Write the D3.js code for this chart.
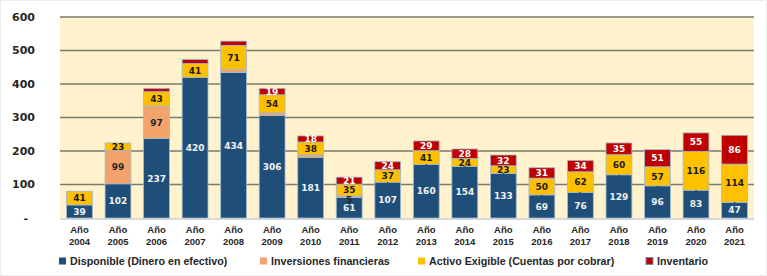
<!DOCTYPE html>
<!-- stacked bars: composicion del activo corriente 2004-2021 -->
<html>
<head>
<meta charset="utf-8">
<style>
  body { margin: 0; background: #ffffff; }
  #chart_div { width: 767px; height: 276px; }
</style>
</head>
<body>
<div id="chart_div"></div>

<script src="https://d3js.org/d3.v7.min.js"></script>

<script>

// data
let years = ["2004","2005","2006","2007","2008","2009","2010","2011","2012",
             "2013","2014","2015","2016","2017","2018","2019","2020","2021"];
let disponible  = [39,102,237,420,434,306,181,61,107,160,154,133,69,76,129,96,83,47];
let inversiones = [0,99,97,0,10,8,8,5,0,0,0,0,0,0,0,0,0,0];
let exigible    = [41,23,43,41,71,54,38,35,37,41,24,23,50,62,60,57,116,114];
let inventario  = [0,0,10,12,13,19,18,21,24,29,28,32,31,34,35,51,55,86];
let y_ticks = [0,100,200,300,400,500,600];

let series_names = ["Disponible (Dinero en efectivo)", "Inversiones financieras",
                    "Activo Exigible (Cuentas por cobrar)", "Inventario"];
let series_keys = ["disp", "inv", "exig", "invt"];
let colors = {disp: "#1f4e79", inv: "#f4a26b", exig: "#ffc000", invt: "#c00000"};
let label_colors = {disp: "#f2f2f2", inv: "#262626", exig: "#1a1a1a", invt: "#ffffff"};

let table = years.map(function(yr, i) {
  return {year: yr, disp: disponible[i], inv: inversiones[i], exig: exigible[i], invt: inventario[i]};
});

let plot = {left: 60, right: 754, top: 17, bottom: 218};

let svg = d3.select("#chart_div")
  .append("svg")
    .attr("width", 767)
    .attr("height", 276);

// light frame like the screenshot
svg.append("rect")
    .attr("x", 0.5).attr("y", 0.5)
    .attr("width", 766).attr("height", 275)
    .attr("fill", "#ffffff")
    .attr("stroke", "#ececec");

let x = d3.scaleBand()
  .domain(years)
  .range([plot.left, plot.right])
  .paddingInner(0.33)
  .paddingOuter(0.17);

let y = d3.scaleLinear()
  .domain([0, 600])
  .range([plot.bottom, plot.top]);

// plot background
svg.append("rect")
    .attr("x", plot.left)
    .attr("y", plot.top)
    .attr("width", plot.right - plot.left)
    .attr("height", plot.bottom - plot.top)
    .attr("fill", "#fff2cc");

// gridlines
svg.append("g")
  .selectAll("line")
  .data(y_ticks.filter(d => d > 0))
  .enter()
  .append("line")
    .attr("x1", plot.left)
    .attr("x2", plot.right)
    .attr("y1", d => y(d))
    .attr("y2", d => y(d))
    .attr("stroke", "#7a7a72")
    .attr("stroke-width", 1.5);

// bottom axis line
svg.append("line")
    .attr("x1", plot.left).attr("x2", plot.right)
    .attr("y1", plot.bottom + 1).attr("y2", plot.bottom + 1)
    .attr("stroke", "#d9d9d9")
    .attr("stroke-width", 2);

// y axis labels
svg.append("g")
  .selectAll("text")
  .data(y_ticks)
  .enter()
  .append("text")
    .attr("x", d => d === 0 ? 28 : 35)
    .attr("y", d => y(d))
    .attr("dy", "0.35em")
    .attr("text-anchor", "end")
    .attr("font-family", "DejaVu Sans")
    .attr("font-weight", "bold")
    .attr("font-size", "11px")
    .attr("fill", "#262626")
    .text(d => d === 0 ? "-" : d);

// x axis labels (two lines)
let x_labels = svg.append("g")
  .selectAll("text")
  .data(years)
  .enter()
  .append("text")
    .attr("text-anchor", "middle")
    .attr("font-family", "Liberation Sans")
    .attr("font-weight", "bold")
    .attr("font-size", "9.5px")
    .attr("fill", "#262626");
x_labels.append("tspan")
    .attr("x", d => x(d) + x.bandwidth() / 2)
    .attr("y", 233)
    .text("Año");
x_labels.append("tspan")
    .attr("x", d => x(d) + x.bandwidth() / 2)
    .attr("y", 245)
    .text(d => d);

// stacked bars
let stacked = d3.stack().keys(series_keys)(table);

let layers = svg.append("g")
  .selectAll("g")
  .data(stacked)
  .enter()
  .append("g")
    .attr("fill", d => colors[d.key]);

layers.selectAll("rect")
  .data(d => d.filter(s => s[1] - s[0] > 0))
  .enter()
  .append("rect")
    .attr("x", d => x(d.data.year))
    .attr("y", d => y(d[1]))
    .attr("width", x.bandwidth())
    .attr("height", d => y(d[0]) - y(d[1]))
    .attr("stroke", "#9dbbd3")
    .attr("stroke-width", 0.8);

// segment labels
let labels = [];
stacked.forEach(function(layer) {
  layer.forEach(function(s, i) {
    let v = s[1] - s[0];
    let show = v >= 15 || (layer.key === "inv" && v === 5);
    if (show) {
      labels.push({key: layer.key, year: s.data.year, mid: (s[0] + s[1]) / 2, text: String(v), size: 9});
    } else if (layer.key === "inv" && v === 0 && i >= 8) {
      labels.push({key: layer.key, year: s.data.year, mid: s[0], text: "-", size: 5});
    }
  });
});

svg.append("g")
  .selectAll("text")
  .data(labels)
  .enter()
  .append("text")
    .attr("x", d => x(d.year) + x.bandwidth() / 2)
    .attr("y", d => y(d.mid) + (d.key === "inv" && d.text === "5" ? 3 : 0))
    .attr("dy", "0.36em")
    .attr("text-anchor", "middle")
    .attr("font-family", "DejaVu Sans")
    .attr("font-weight", "bold")
    .attr("font-size", d => d.size + "px")
    .attr("fill", d => label_colors[d.key])
    .text(d => d.text);

// legend
let legend_x = [59, 260, 418, 646];
let legend = svg.append("g")
  .selectAll("g")
  .data(series_keys)
  .enter()
  .append("g")
    .attr("transform", (d, i) => "translate(" + legend_x[i] + ",261)");

legend.append("rect")
    .attr("x", 0)
    .attr("y", -3.5)
    .attr("width", 7)
    .attr("height", 7)
    .attr("fill", d => colors[d])
    .attr("stroke", d => d === "invt" ? "#6f8fc0" : "none")
    .attr("stroke-width", 1);

legend.append("text")
    .attr("x", 11)
    .attr("y", 0)
    .attr("dy", "0.35em")
    .attr("font-family", "Liberation Sans")
    .attr("font-weight", "bold")
    .attr("font-size", "10.7px")
    .attr("fill", "#262626")
    .text((d, i) => series_names[i]);

</script>
</body>
</html>
